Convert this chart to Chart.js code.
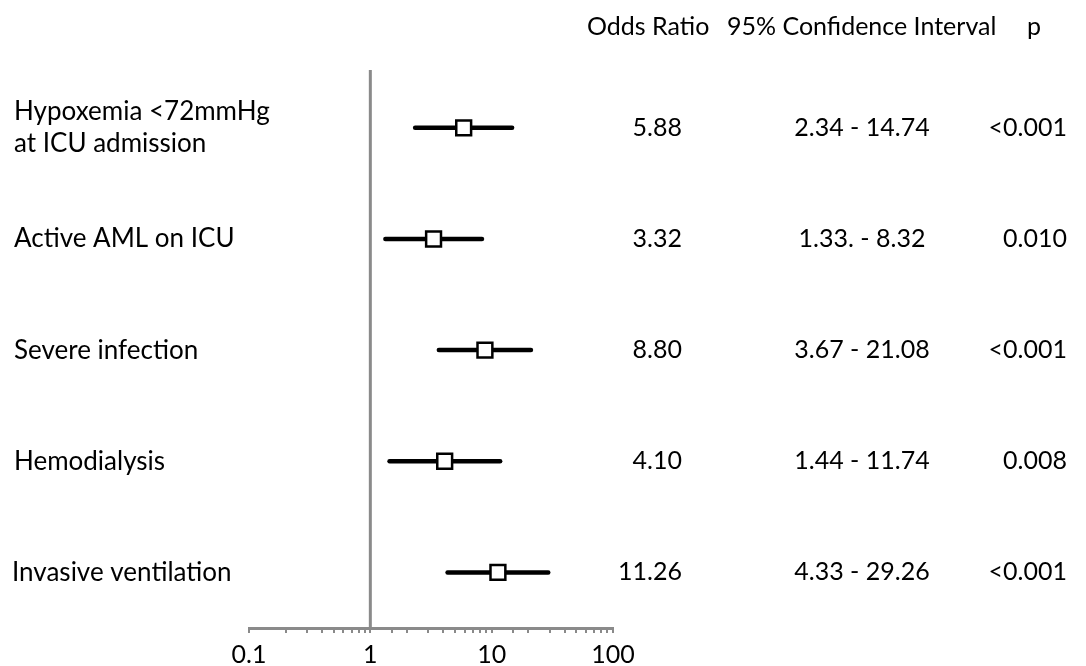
<!DOCTYPE html>
<html>
<head>
<meta charset="utf-8">
<script src="https://cdn.jsdelivr.net/npm/chart.js@4/dist/chart.umd.min.js"></script>
<style>
	html, body { margin: 0; padding: 0; background: #fff; }
	#wrap { width: 1086px; height: 666px; position: relative; }
</style>
</head>
<body>
<div id="wrap"><canvas id="forest"></canvas></div>
<script>
// values
const factors = [["Hypoxemia <72mmHg", "at ICU admission"], ["Active AML on ICU"], ["Severe infection"], ["Hemodialysis"], ["Invasive ventilation"]];
const oddsRatios = [5.88, 3.32, 8.80, 4.10, 11.26];
const ciLow = [2.34, 1.33, 3.67, 1.44, 4.33];
const ciHigh = [14.74, 8.32, 21.08, 11.74, 29.26];
const orLabels = ["5.88", "3.32", "8.80", "4.10", "11.26"];
const ciLabels = ["2.34 - 14.74", "1.33. - 8.32", "3.67 - 21.08", "1.44 - 11.74", "4.33 - 29.26"];
const pLabels = ["<0.001", "0.010", "<0.001", "0.008", "<0.001"];
const xTickLabels = [0.1, 1, 10, 100];

const FONT = "Lato";
Chart.defaults.font.family = FONT;
Chart.defaults.color = "#000";

const datasets = [];
datasets.push({
	type: "scatter",
	label: "OR",
	data: oddsRatios.map((v, i) => ({ x: v, y: i })),
	pointStyle: "rect",
	pointRadius: 10.5,
	pointHoverRadius: 10.5,
	backgroundColor: "#fff",
	borderColor: "#000",
	borderWidth: 2.5,
	order: 0
});
for (let i = 0; i < oddsRatios.length; i++) {
	datasets.push({
		type: "line",
		label: "CI " + i,
		data: [{ x: ciLow[i], y: i }, { x: ciHigh[i], y: i }],
		borderColor: "#000",
		borderWidth: 4.5,
		borderCapStyle: "round",
		pointRadius: 0,
		order: 1
	});
}
// reference line at OR = 1
datasets.push({
	type: "line",
	label: "ref",
	data: [{ x: 1, y: -0.52 }, { x: 1, y: 4.5 }],
	borderColor: "#8a8a8a",
	borderWidth: 3,
	pointRadius: 0,
	order: 2
});

const textPlugin = {
	id: "tableText",
	afterDraw(chart) {
		const ctx = chart.ctx;
		const y = chart.scales.y;
		ctx.save();
		ctx.fillStyle = "#000";
		ctx.textBaseline = "middle";
		// header
		ctx.font = "25px " + FONT;
		ctx.textAlign = "left";
		ctx.fillText("Odds Ratio", 587, 27);
		ctx.fillText("95% Confidence Interval", 727, 27);
		ctx.fillText("p", 1027, 27);
		for (let i = 0; i < factors.length; i++) {
			const py = y.getPixelForValue(i);
			ctx.font = "26px " + FONT;
			ctx.textAlign = "left";
			const lines = factors[i];
			if (lines.length === 2) {
				ctx.fillText(lines[0], 14, py - 16);
				ctx.fillText(lines[1], 14, py + 16);
			} else {
				ctx.fillText(lines[0], i === 4 ? 12 : 14, py);
			}
			ctx.font = "25px " + FONT;
			ctx.textAlign = "right";
			ctx.fillText(orLabels[i], 682, py);
			ctx.textAlign = "center";
			ctx.fillText(ciLabels[i], 862, py);
			ctx.textAlign = "right";
			ctx.fillText(pLabels[i], 1067, py);
		}
		ctx.restore();
	}
};

new Chart("forest", {
	data: { datasets: datasets },
	options: {
		responsive: true,
		maintainAspectRatio: false,
		animation: false,
		events: [],
		layout: { padding: { left: 249, right: 473, top: 70, bottom: 0 } },
		plugins: { legend: { display: false }, tooltip: { enabled: false } },
		scales: {
			x: {
				type: "logarithmic",
				min: 0.1,
				max: 100,
				afterFit(s) { s.height = 38; },
				border: { color: "#8a8a8a", width: 3 },
				grid: { drawOnChartArea: false, drawTicks: true, tickLength: 5, color: "#8a8a8a", lineWidth: 2 },
				ticks: {
					autoSkip: false,
					maxRotation: 0,
					padding: 7,
					font: { size: 25 },
					color: "#000",
					callback(v) { return xTickLabels.includes(Number(v)) ? String(v) : ""; }
				}
			},
			y: {
				type: "linear",
				reverse: true,
				min: -0.52,
				max: 4.5,
				display: false
			}
		}
	},
	plugins: [textPlugin]
});
</script>
</body>
</html>
